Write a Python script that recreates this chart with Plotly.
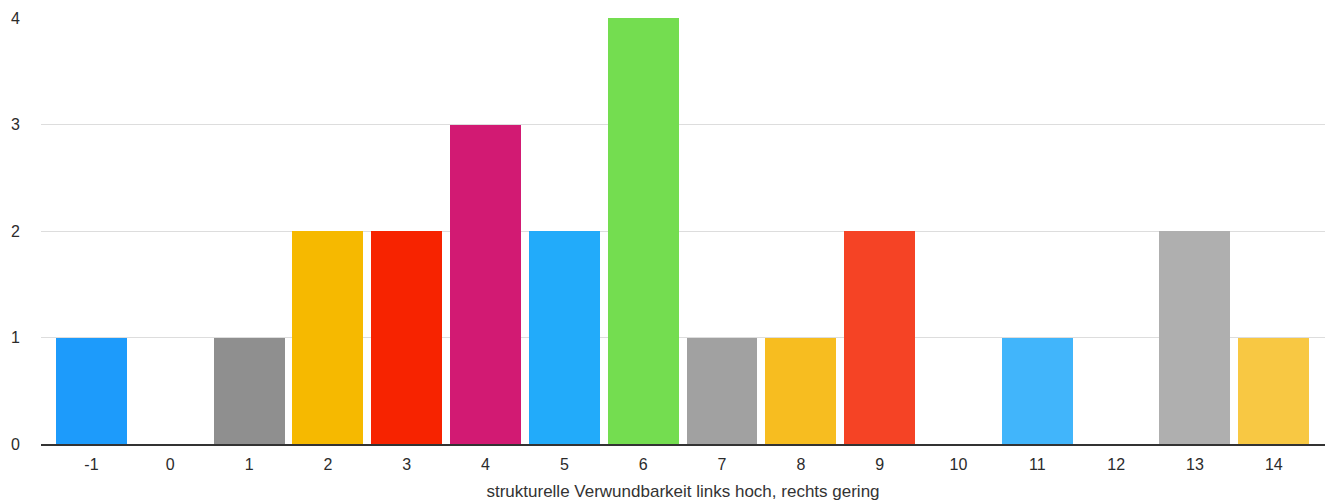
import plotly.graph_objects as go

categories = [-1, 0, 1, 2, 3, 4, 5, 6, 7, 8, 9, 10, 11, 12, 13, 14]
counts = [1, 0, 1, 2, 2, 3, 2, 4, 1, 1, 2, 0, 1, 0, 2, 1]
bar_colors = [
    "#1d9bfb", "#ffffff", "#8f8f8f", "#f6b900", "#f72300", "#d21a73",
    "#22abfa", "#74dd50", "#a1a1a1", "#f7bd20", "#f54325", "#ffffff",
    "#41b5fb", "#ffffff", "#afafaf", "#f8c843",
]
tick_labels = [str(c) for c in categories]
x_title = "strukturelle Verwundbarkeit links hoch, rechts gering"

fig = go.Figure(
    go.Bar(
        x=categories,
        y=counts,
        marker=dict(color=bar_colors, line=dict(width=0)),
        width=0.9,
        hoverinfo="x+y",
    )
)

fig.update_layout(
    width=1331,
    height=503,
    margin=dict(l=41, r=6, t=18, b=59),
    paper_bgcolor="white",
    plot_bgcolor="white",
    font=dict(family="Liberation Sans, Arial, sans-serif", size=16, color="#333333"),
    showlegend=False,
    bargap=0,
)

fig.update_xaxes(
    range=[-1.64, 14.65],
    tickmode="array",
    tickvals=categories,
    ticktext=tick_labels,
    tickfont=dict(size=16, color="#2b2b2b"),
    showgrid=False,
    zeroline=False,
    showline=True,
    linecolor="#333333",
    linewidth=2,
    ticks="",
    ticklabelstandoff=5,
    title=dict(text=x_title, standoff=13, font=dict(size=17, color="#333333")),
)

fig.update_yaxes(
    range=[0, 4],
    tickvals=[0, 1, 2, 3, 4],
    tickfont=dict(size=16, color="#2b2b2b"),
    showgrid=True,
    gridcolor="#dddddd",
    gridwidth=1,
    zeroline=False,
    ticks="",
    ticklabelstandoff=20,
)

fig.write_html("out.html")
